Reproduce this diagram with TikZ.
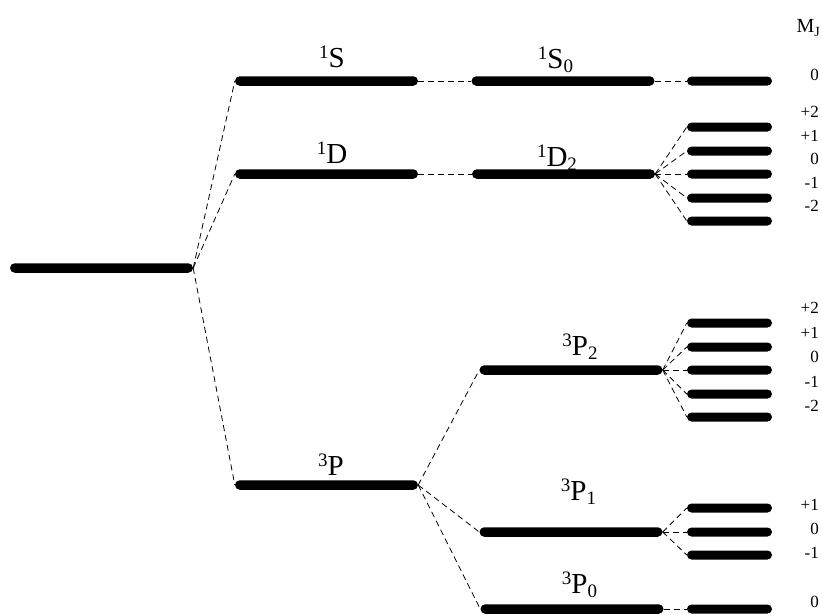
\documentclass[tikz,border=0pt]{standalone}
\usepackage{fontspec}
\setmainfont{Liberation Serif}
\tikzset{
 lev/.style={fill=black, draw=none, inner sep=0pt, minimum height=9.5pt, rounded corners=4.75pt},
 big/.style={lev, minimum width=183pt},
 sublev/.style={lev, minimum width=85pt, minimum height=9pt, rounded corners=4.5pt},
 dl/.style={dash pattern=on 6pt off 4pt, line width=0.8pt},
 term/.style={anchor=base, inner sep=0pt, font=\fontsize{29}{30}\selectfont},
 mj/.style={anchor=east, inner sep=0pt, font=\fontsize{17}{18}\selectfont, text height=11.5pt, text depth=0pt},
}
\newcommand\upx[1]{\raisebox{9pt}{\fontsize{19}{19}\selectfont #1}}
\newcommand\dnx[1]{\raisebox{-4pt}{\fontsize{19}{19}\selectfont #1}}
\begin{document}
\begin{tikzpicture}[x=1pt,y=-1pt]
\useasboundingbox (0,0) rectangle (822,614);
% main levels
\node[big] (g) at (101.5,268) {};
\node[big] (S) at (326.5,81) {};
\node[big] (D) at (326.5,174) {};
\node[big] (P) at (326.5,485) {};
\node[big] (S0) at (563,81) {};
\node[big] (D2) at (563.5,174) {};
\node[big] (P2) at (571,370) {};
\node[big] (P1) at (571,532) {};
\node[big] (P0) at (572,609) {};
% sublevels
\node[sublev] (s00) at (729.5,81) {};
\node[sublev] (d22) at (729.5,127) {};
\node[sublev] (d21) at (729.5,151) {};
\node[sublev] (d20) at (729.5,174) {};
\node[sublev] (d2m1) at (729.5,198) {};
\node[sublev] (d2m2) at (729.5,221) {};
\node[sublev] (p22) at (729.5,323) {};
\node[sublev] (p21) at (729.5,347) {};
\node[sublev] (p20) at (729.5,370) {};
\node[sublev] (p2m1) at (729.5,394) {};
\node[sublev] (p2m2) at (729.5,417) {};
\node[sublev] (p11) at (729.5,508) {};
\node[sublev] (p10) at (729.5,532) {};
\node[sublev] (p1m1) at (729.5,555) {};
\node[sublev] (p00) at (729.5,609) {};
% connectors
\draw[dl] (g.east) -- (S.west);
\draw[dl] (g.east) -- (D.west);
\draw[dl] (g.east) -- (P.west);
\draw[dl] (S.east) -- (S0.west);
\draw[dl] (D.east) -- (D2.west);
\draw[dl] (P.east) -- (P2.west);
\draw[dl] (P.east) -- (P1.west);
\draw[dl] (P.east) -- (P0.west);
\draw[dl] (S0.east) -- (s00.west);
\foreach \n in {d22,d21,d20,d2m1,d2m2} \draw[dl] (D2.east) -- (\n.west);
\foreach \n in {p22,p21,p20,p2m1,p2m2} \draw[dl] (P2.east) -- (\n.west);
\foreach \n in {p11,p10,p1m1} \draw[dl] (P1.east) -- (\n.west);
\draw[dl] (P0.east) -- (p00.west);
% term labels
\node[term] (lS) at (332,67) {\upx{1}S};
\node[term] (lD) at (332,163) {\upx{1}D};
\node[term] (lP) at (331,475) {\upx{3}P};
\node[term] (lS0) at (555.5,68) {\upx{1}S\dnx{0}};
\node[term] (lD2) at (557,166) {\upx{1}D\dnx{2}};
\node[term] (lP2) at (580,355) {\upx{3}P\dnx{2}};
\node[term] (lP1) at (578.5,500) {\upx{3}P\dnx{1}};
\node[term] (lP0) at (579.5,593) {\upx{3}P\dnx{0}};
% M_J labels
\node[anchor=base east, inner sep=0pt, font=\fontsize{20}{20}\selectfont] (mjh) at (820,32) {M\raisebox{-4pt}{\fontsize{14}{14}\selectfont J}};
\node[mj] (m1) at (819,75) {0};
\node[mj] (m2) at (819,112) {+2};
\node[mj] (m3) at (819,136) {+1};
\node[mj] (m4) at (819,159) {0};
\node[mj] (m5) at (819,183) {-1};
\node[mj] (m6) at (819,206) {-2};
\node[mj] (m7) at (819,308) {+2};
\node[mj] (m8) at (819,333) {+1};
\node[mj] (m9) at (819,357) {0};
\node[mj] (m10) at (819,382) {-1};
\node[mj] (m11) at (819,406) {-2};
\node[mj] (m12) at (819,505) {+1};
\node[mj] (m13) at (819,529) {0};
\node[mj] (m14) at (819,553) {-1};
\node[mj] (m15) at (819,602) {0};
\end{tikzpicture}
\end{document}
